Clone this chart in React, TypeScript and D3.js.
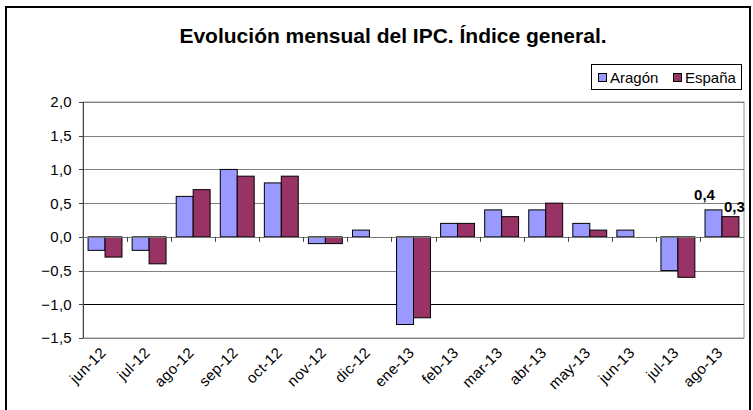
import { useEffect, useRef } from "react";
import * as d3 from "d3";

const months = ["jun-12", "jul-12", "ago-12", "sep-12", "oct-12", "nov-12", "dic-12", "ene-13", "feb-13", "mar-13", "abr-13", "may-13", "jun-13", "jul-13", "ago-13"];
const aragon = [-0.2, -0.2, 0.6, 1.0, 0.8, -0.1, 0.1, -1.3, 0.2, 0.4, 0.4, 0.2, 0.1, -0.5, 0.4];
const espana = [-0.3, -0.4, 0.7, 0.9, 0.9, -0.1, 0.0, -1.2, 0.2, 0.3, 0.5, 0.1, 0.0, -0.6, 0.3];
const seriesNames = ["Aragón", "España"];
const colors = ["#9999FF", "#993366"];
const yTicks = [-1.5, -1.0, -0.5, 0, 0.5, 1.0, 1.5, 2.0];

export default function App() {
  const svgRef = useRef<SVGSVGElement>(null);

  useEffect(() => {
    document.body.style.margin = "0";
    const svg = d3.select(svgRef.current);
    svg.selectAll("*").remove();

    const left = 83, right = 744, top = 102, bottom = 338;
    const font = "Liberation Sans, Arial, sans-serif";
    const fmt = (v: number) => d3.format(".1f")(v).replace(".", ",");

    svg.append("rect").attr("width", 753).attr("height", 410).attr("fill", "#fff");

    const x = d3.scaleBand().domain(months).range([left, right]);
    const xs = d3.scaleBand().domain(seriesNames).range([0, x.bandwidth()]).paddingInner(0).paddingOuter(0.3);
    const y = d3.scaleLinear().domain([-1.5, 2.0]).range([bottom, top]);

    // plot border
    svg.append("rect")
      .attr("x", left).attr("y", top).attr("width", right - left).attr("height", bottom - top)
      .attr("fill", "none").attr("stroke", "#999");

    // gridlines
    svg.append("g").selectAll("line").data(yTicks.filter(t => t !== 0)).join("line")
      .attr("x1", left).attr("x2", right)
      .attr("y1", d => Math.round(y(d)) + 0.5).attr("y2", d => Math.round(y(d)) + 0.5)
      .attr("stroke", d => (d === -1.0 ? "#000" : "#808080"));

    // y axis ticks and labels
    const ya = svg.append("g");
    ya.append("line").attr("x1", left + 0.5).attr("x2", left + 0.5).attr("y1", top).attr("y2", bottom)
      .attr("stroke", "#444");
    ya.selectAll("line.t").data(yTicks).join("line").attr("class", "t")
      .attr("x1", left - 4).attr("x2", left)
      .attr("y1", d => Math.round(y(d)) + 0.5).attr("y2", d => Math.round(y(d)) + 0.5)
      .attr("stroke", "#444");
    ya.selectAll("text").data(yTicks).join("text")
      .attr("x", left - 11).attr("y", d => y(d)).attr("dy", "0.36em")
      .attr("text-anchor", "end").attr("font-family", font).attr("font-size", 15)
      .attr("letter-spacing", 0.3)
      .text(d => fmt(d));

    // bars
    const series = [aragon, espana];
    series.forEach((vals, si) => {
      svg.append("g").selectAll("rect").data(vals).join("rect")
        .attr("x", (d, i) => x(months[i])! + xs(seriesNames[si])!)
        .attr("width", xs.bandwidth())
        .attr("y", d => y(Math.max(0, d)))
        .attr("height", d => Math.abs(y(d) - y(0)))
        .attr("fill", colors[si]).attr("stroke", "#000").attr("stroke-width", 1);
    });

    // zero axis
    svg.append("line").attr("x1", left).attr("x2", right)
      .attr("y1", Math.round(y(0)) + 0.5).attr("y2", Math.round(y(0)) + 0.5).attr("stroke", "#777");
    svg.append("g").selectAll("line").data(months.slice(1)).join("line")
      .attr("x1", d => Math.round(x(d)!) + 0.5).attr("x2", d => Math.round(x(d)!) + 0.5)
      .attr("y1", y(0)).attr("y2", y(0) + 5).attr("stroke", "#444");

    // x labels
    svg.append("g").selectAll("text").data(months).join("text")
      .attr("transform", d => `translate(${x(d)! + x.bandwidth() / 2 - 2},${bottom + 12}) rotate(-45)`)
      .attr("text-anchor", "end").attr("dy", "0.35em")
      .attr("font-family", font).attr("font-size", 15).attr("letter-spacing", 0.3)
      .text(d => d);

    // data labels on last month
    const last = months.length - 1;
    const dxs = [-9, 4];
    const dys = [-10, -5];
    series.forEach((vals, si) => {
      svg.append("text")
        .attr("x", x(months[last])! + xs(seriesNames[si])! + xs.bandwidth() / 2 + dxs[si])
        .attr("y", y(vals[last]) + dys[si])
        .attr("text-anchor", "middle").attr("font-family", font).attr("font-size", 15).attr("font-weight", "bold")
        .text(fmt(vals[last]));
    });

    // title
    svg.append("text").attr("x", 393).attr("y", 43).attr("text-anchor", "middle")
      .attr("font-family", font).attr("font-size", 21).attr("font-weight", "bold")
      .text("Evolución mensual del IPC. Índice general.");

    // legend
    const lg = svg.append("g");
    lg.append("rect").attr("x", 591.5).attr("y", 64.5).attr("width", 150).attr("height", 25)
      .attr("fill", "#fff").attr("stroke", "#000");
    const lx = [598, 673];
    seriesNames.forEach((n, i) => {
      lg.append("rect").attr("x", lx[i] + 0.5).attr("y", 73.5).attr("width", 8).attr("height", 8)
        .attr("fill", colors[i]).attr("stroke", "#000");
      lg.append("text").attr("x", lx[i] + 12).attr("y", 77.5).attr("dy", "0.36em")
        .attr("font-family", font).attr("font-size", 15).text(n);
    });

    // outer chart frame
    svg.append("rect")
      .attr("x", 6).attr("y", 7).attr("width", 744).attr("height", 410)
      .attr("fill", "none").attr("stroke", "#000").attr("stroke-width", 2);
  }, []);

  return (
    <>
      <style>{"body{margin:0}"}</style>
      <svg ref={svgRef} width={753} height={410} style={{ display: "block" }} />
    </>
  );
}
